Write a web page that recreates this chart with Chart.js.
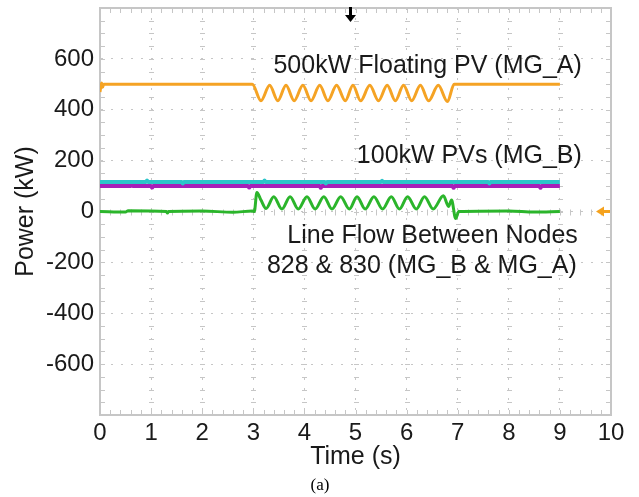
<!DOCTYPE html>
<html>
<head>
<meta charset="utf-8">
<script src="https://cdn.jsdelivr.net/npm/chart.js@4.4.0/dist/chart.umd.min.js"></script>
<style>
html, body { margin: 0; padding: 0; background: #fff; }
#wrap { width: 639px; height: 497px; position: relative; }
</style>
</head>
<body>
<div id="wrap"><canvas id="scope"></canvas></div>
<script>
// time (s), power (kW) pairs
const floatingPV = [
  [0, 470], [0.03, 505], [0.05, 488], [0.07, 500], [2.98, 500],
  [3.15, 435], [3.32, 496], [3.48, 435], [3.64, 496], [3.8, 435], [3.97, 496],
  [4.13, 435], [4.3, 496], [4.46, 435], [4.63, 496], [4.8, 435], [4.95, 496],
  [5.1, 435], [5.28, 496], [5.45, 435], [5.62, 496], [5.78, 435], [5.94, 496],
  [6.1, 435], [6.27, 496], [6.43, 435], [6.62, 496], [6.8, 432], [6.93, 500],
  [9, 500]
];
const pvB1 = [
  [0, 116], [0.9, 116], [0.92, 122], [0.94, 116], [1.6, 116], [1.62, 110], [1.64, 116],
  [3.2, 116], [3.22, 122], [3.24, 116], [4.4, 116], [4.42, 110], [4.44, 116],
  [5.5, 116], [5.52, 121], [5.54, 116], [7.6, 116], [7.62, 110], [7.64, 116], [9, 116]
];
const pvB2 = [
  [0, 100], [0.6, 100], [0.62, 106], [0.64, 100], [1.0, 100], [1.02, 94], [1.04, 100],
  [2.9, 100], [2.92, 94], [2.94, 100], [4.3, 100], [4.32, 93], [4.34, 100],
  [6.9, 100], [6.92, 93], [6.94, 100], [8.6, 100], [8.62, 93], [8.64, 100], [9, 100]
];
const lineFlow = [
  [0, 0], [0.5, -2], [0.55, 3], [1.3, 0], [1.32, -6], [1.34, 0], [2.0, 2], [2.6, -3],
  [2.98, 2], [3.02, 0], [3.07, 75], [3.15, 45], [3.25, 12],
  [3.4, 58], [3.56, 10], [3.72, 58], [3.88, 10], [4.05, 58], [4.21, 10],
  [4.38, 58], [4.54, 10], [4.71, 58], [4.88, 10], [5.03, 58], [5.19, 10],
  [5.36, 58], [5.53, 10], [5.7, 58], [5.86, 10], [6.02, 58], [6.19, 10],
  [6.35, 58], [6.52, 10], [6.72, 62], [6.82, 20], [6.88, 45], [6.96, -28],
  [7.02, 0], [8.0, 2], [8.5, -2], [9, 0]
];

const xLabels = [0, 1, 2, 3, 4, 5, 6, 7, 8, 9, 10];
const yLabels = [-600, -400, -200, 0, 200, 400, 600];

// annotation text: right end (s), middle (kW)
const notes = [
  { text: '500kW Floating PV (MG_A)', t: 9.43, p: 572 },
  { text: '100kW PVs (MG_B)', t: 9.43, p: 218 },
  { text: 'Line Flow Between Nodes', t: 9.35, p: -96 },
  { text: '828 & 830 (MG_B & MG_A)', t: 9.33, p: -214 }
];
const triggerTime = 4.9;
const groundLevel = 0;

const FONT = '"Liberation Sans", Arial, sans-serif';
const GRID = '#c6c6c6';
const INK = '#1a1a1a';
const toXY = arr => arr.map(d => ({ x: d[0], y: d[1] }));

const scopeDecor = {
  id: 'scopeDecor',
  beforeDatasetsDraw(chart) {
    const { ctx, chartArea: a, scales: { x, y } } = chart;
    ctx.save();
    ctx.strokeStyle = GRID;
    ctx.lineWidth = 1;
    ctx.beginPath();
    const y0 = Math.round(y.getPixelForValue(0)) + 0.5;
    for (let i = 0; i <= 50; i++) {
      const px = Math.round(x.getPixelForValue(i / 5)) + 0.5;
      ctx.moveTo(px, a.bottom); ctx.lineTo(px, a.bottom - 5);
      ctx.moveTo(px, a.top); ctx.lineTo(px, a.top + 5);
      ctx.moveTo(px, y0 - 3); ctx.lineTo(px, y0 + 3);
    }
    for (let j = -16; j <= 16; j++) {
      const py = Math.round(y.getPixelForValue(j * 50)) + 0.5;
      ctx.moveTo(a.left, py); ctx.lineTo(a.left + 5, py);
      ctx.moveTo(a.right, py); ctx.lineTo(a.right - 5, py);
      for (let k = 1; k < 10; k++) {
        const gx = Math.round(x.getPixelForValue(k));
        ctx.moveTo(gx - 2, py); ctx.lineTo(gx + 3, py);
      }
    }
    ctx.stroke();
    ctx.lineWidth = 2;
    ctx.strokeRect(a.left, a.top, a.right - a.left, a.bottom - a.top);
    ctx.restore();
  },
  afterDatasetsDraw(chart) {
    const { ctx, chartArea: a, scales: { x, y } } = chart;
    ctx.save();
    ctx.fillStyle = INK;
    ctx.font = '25px ' + FONT;
    ctx.textAlign = 'right';
    ctx.textBaseline = 'middle';
    notes.forEach(n => ctx.fillText(n.text, x.getPixelForValue(n.t), y.getPixelForValue(n.p)));

    // trigger marker
    const tx = Math.round(x.getPixelForValue(triggerTime));
    ctx.fillStyle = '#000';
    ctx.fillRect(tx - 1, a.top - 1, 3, 9);
    ctx.beginPath();
    ctx.moveTo(tx - 5, a.top + 7); ctx.lineTo(tx + 6, a.top + 7); ctx.lineTo(tx + 0.5, a.top + 14);
    ctx.closePath(); ctx.fill();

    // ground marker
    const gy = y.getPixelForValue(groundLevel);
    ctx.fillStyle = '#f5a21e';
    ctx.beginPath();
    ctx.moveTo(a.right - 15, gy); ctx.lineTo(a.right - 7, gy - 5); ctx.lineTo(a.right - 7, gy + 5);
    ctx.closePath(); ctx.fill();
    ctx.fillRect(a.right - 8, gy - 1.5, 7, 3);

    // caption
    ctx.fillStyle = '#000';
    ctx.font = '17px "Liberation Serif", "Times New Roman", serif';
    ctx.textAlign = 'center';
    ctx.fillText('(a)', 320, 486);
    ctx.restore();
  }
};

const lineStyle = (label, data, color, width) => ({
  label, data: toXY(data), borderColor: color, backgroundColor: color,
  borderWidth: width, pointRadius: 0, cubicInterpolationMode: 'monotone', fill: false
});

new Chart(document.getElementById('scope'), {
  type: 'line',
  data: {
    datasets: [
      lineStyle('500kW Floating PV (MG_A)', floatingPV, '#f5a324', 3),
      lineStyle('PV 1 (MG_B)', pvB1, '#2cc5c9', 4),
      lineStyle('PV 2 (MG_B)', pvB2, '#a71fb8', 4),
      lineStyle('Line Flow 828-830', lineFlow, '#2bb52b', 3)
    ]
  },
  options: {
    responsive: true,
    maintainAspectRatio: false,
    animation: false,
    devicePixelRatio: 1,
    layout: { padding: { left: 0, right: 28, top: 8, bottom: 0 } },
    plugins: { legend: { display: false }, tooltip: { enabled: false } },
    scales: {
      x: {
        type: 'linear', min: 0, max: 10,
        afterFit: s => { s.height = 82; s.paddingLeft = 0; s.paddingRight = 0; },
        afterBuildTicks: s => { s.ticks = xLabels.map(v => ({ value: v })); },
        ticks: { font: { family: FONT, size: 24 }, color: INK, padding: 4, maxRotation: 0 },
        grid: { color: GRID, drawTicks: false },
        border: { color: GRID, width: 2, dash: [2, 8] },
        title: { display: true, text: 'Time (s)', font: { family: FONT, size: 25 }, color: INK, padding: { top: 0, bottom: 25 } }
      },
      y: {
        min: -800, max: 800,
        afterFit: s => { s.width = 100; s.paddingTop = 0; s.paddingBottom = 0; },
        afterBuildTicks: s => { s.ticks = [-800].concat(yLabels, [800]).map(v => ({ value: v })); },
        ticks: {
          font: { family: FONT, size: 24 }, color: INK, padding: 6,
          callback: v => (yLabels.includes(v) ? String(v) : '')
        },
        grid: { color: GRID, drawTicks: false },
        border: { color: GRID, width: 2, dash: [2, 8] },
        title: { display: true, text: 'Power (kW)', font: { family: FONT, size: 25 }, color: INK, padding: { top: 11, bottom: 0 } }
      }
    }
  },
  plugins: [scopeDecor]
});
</script>
</body>
</html>
